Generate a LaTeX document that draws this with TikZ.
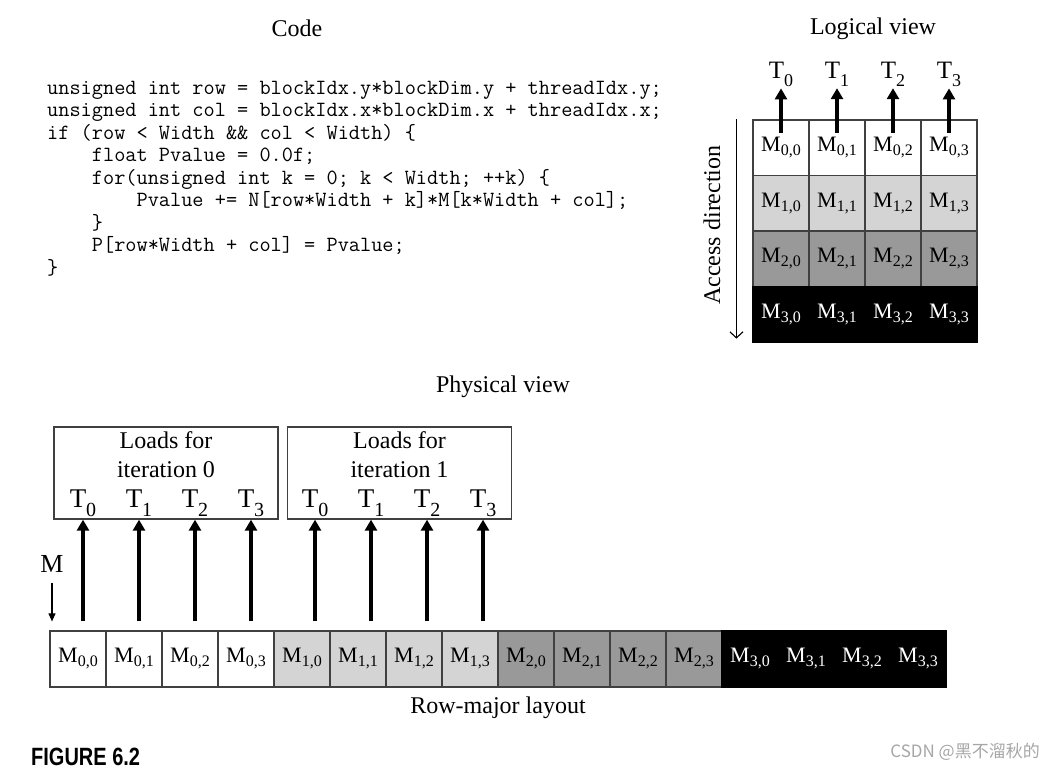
\documentclass[tikz,border=0pt]{standalone}
\usepackage{fontspec}
\setmainfont{Liberation Serif}
\newfontfamily\figfont[FakeStretch=0.8]{Liberation Sans}
\newfontfamily\cjkfont{Noto Sans CJK SC}
\usetikzlibrary{arrows.meta}
\definecolor{rowone}{gray}{0.83}
\definecolor{rowtwo}{gray}{0.6}
\definecolor{edge}{gray}{0.25}
\newcommand\Mlbl[1]{M\raisebox{-4pt}{\fontsize{16}{16}\selectfont#1}}
\newcommand\Tlog[1]{T\raisebox{-8pt}{\fontsize{18}{18}\selectfont#1}}
\newcommand\Tphy[1]{T\raisebox{-9pt}{\fontsize{20}{20}\selectfont#1}}
\newcommand\ind{\hphantom{xxxx}}
\tikzset{
  cell/.style    = {draw=edge, line width=1.2pt, minimum width=56pt, minimum height=56pt,
                    inner sep=0pt, font=\fontsize{22}{24}\selectfont},
  title/.style   = {font=\fontsize{24}{28}\selectfont, inner sep=0pt},
  loadbox/.style = {draw=edge, line width=1.3pt, minimum width=224pt, minimum height=92pt},
  ld/.style      = {-{Triangle[length=11pt,width=12pt]}, line width=4pt},
  tarr/.style    = {-{Triangle[length=8pt,width=7pt]}, line width=1.1pt},
  barb/.style    = {-{Straight Barb[length=6pt,width=13pt]}, line width=1.1pt},
}

\begin{document}
\begin{tikzpicture}[x=1pt,y=-1pt]
  \useasboundingbox (0,0) rectangle (1043,771);
  % titles
  \node[title] (tcode) at (297,28) {Code};
  \node[title] (tlog) at (873,29) {Logical view};
  \node[title] (tphy) at (503,387) {Physical view};
  \node[title] (trow) at (498,708) {Row-major layout};
  % kernel code
  \node[anchor=north west, inner sep=0pt, align=left,
        font=\ttfamily\fontsize{21.7}{22.5}\selectfont] (code) at (47,81) {%
unsigned int row = blockIdx.y*blockDim.y + threadIdx.y;\\
unsigned int col = blockIdx.x*blockDim.x + threadIdx.x;\\
if (row < Width \&\& col < Width) \{\\
\ind float Pvalue = 0.0f;\\
\ind for(unsigned int k = 0; k < Width; ++k) \{\\
\ind\ind Pvalue += N[row*Width + k]*M[k*Width + col];\\
\ind \}\\
\ind P[row*Width + col] = Pvalue;\\
\}};
  % matrix cells, logical and physical
  \foreach \r/\fc/\tc/\dc in {0/white/black/edge,1/rowone/black/edge,2/rowtwo/black/edge,3/black/white/black}{
    \foreach \c in {0,...,3}{
      \pgfmathtruncatemacro\k{4*\r+\c}
      \node[cell, fill=\fc, text=\tc, draw=\dc, minimum height=55.5pt] (l\r\c)
        at (781+56*\c,147.75+55.5*\r) {\Mlbl{\r,\c}};
      \node[cell, fill=\fc, text=\tc, draw=\dc] (p\k) at (78+56*\k,659) {\Mlbl{\r,\c}};
    }}
  % logical view threads
  \foreach \c in {0,...,3}{
    \node[anchor=base, inner sep=2pt, font=\fontsize{25}{25}\selectfont] (lt\c)
      at (781+56*\c,78) {\Tlog{\c}};
    \draw[ld] ([yshift=15pt]l0\c.center) -- (l0\c.center |- lt\c.south);
  }
  \node[title, rotate=90] (acc) at (712,225) {Access direction};
  \draw[barb] ([xshift=-16pt]l00.north west) -- ([xshift=-16pt,yshift=4pt]l30.south west);
  % physical view loads
  \node[loadbox] (ba) at (166,473) {};
  \node[loadbox] (bb) at (399.5,473) {};
  \node[title, align=center, font=\fontsize{24}{29}\selectfont] (la) at (166,455) {Loads for\\iteration 0};
  \node[title, align=center, font=\fontsize{24}{29}\selectfont] (lb) at (399.5,455) {Loads for\\iteration 1};
  \foreach \i/\x in {0/83,1/139,2/195,3/251}{
    \node[anchor=base, inner sep=0pt, font=\fontsize{27}{27}\selectfont] (pa\i) at (\x,507) {\Tphy{\i}};
    \draw[ld] ([yshift=9pt]pa\i |- p0.north) -- (pa\i |- ba.south);
  }
  \foreach \i/\x in {0/315,1/371,2/427,3/483}{
    \node[anchor=base, inner sep=0pt, font=\fontsize{27}{27}\selectfont] (pb\i) at (\x,507) {\Tphy{\i}};
    \draw[ld] ([yshift=9pt]pb\i |- p0.north) -- (pb\i |- bb.south);
  }
  \node[title, font=\fontsize{26}{26}\selectfont] (mlab) at (52,564) {M};
  \draw[tarr] ([yshift=-10pt]mlab.south) -- ([yshift=9pt]mlab.south |- p0.north);
  % caption
  \node[anchor=west, inner sep=0pt] (fig) at (31,757) {\figfont\bfseries\fontsize{25}{25}\selectfont FIGURE 6.2};
  \node[anchor=east, inner sep=0pt, text=black!35] (mark) at (1040,752)
    {\cjkfont\fontsize{17}{17}\selectfont CSDN @黑不溜秋的};
\end{tikzpicture}
\end{document}
